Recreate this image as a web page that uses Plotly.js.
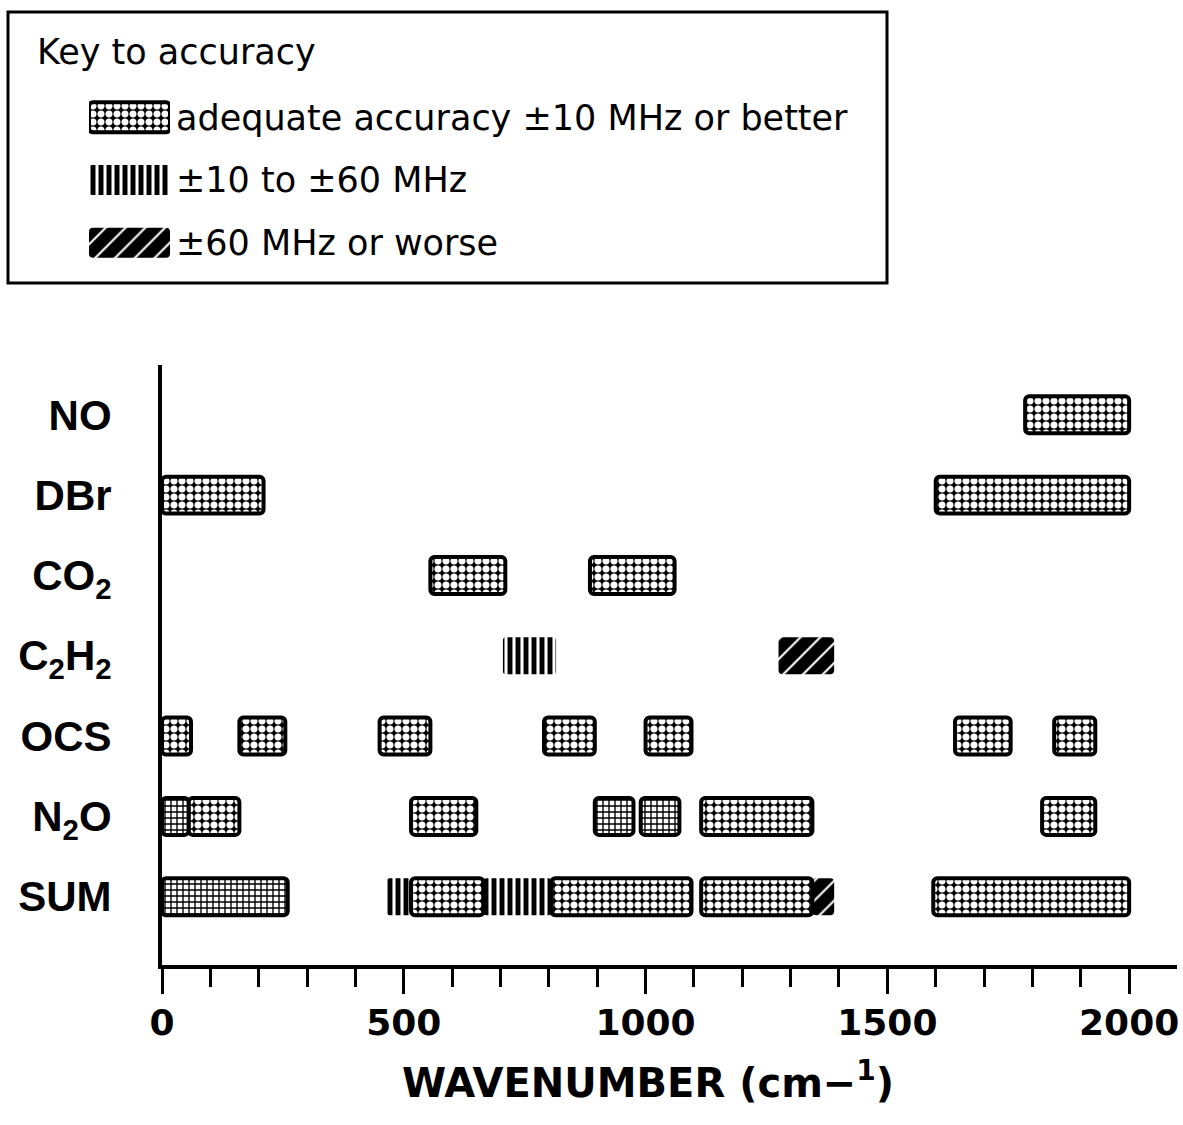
<!DOCTYPE html>
<html><head><meta charset="utf-8">
<script src="https://cdn.plot.ly/plotly-3.0.1.min.js"></script>
<style>html,body{margin:0;padding:0;background:#fff}</style>
</head><body><div id="chart" style="width:1183px;height:1125px"></div>
<script>
// ---- data ----
const categories = ['NO','DBr','CO<sub>2</sub>','C<sub>2</sub>H<sub>2</sub>','OCS','N<sub>2</sub>O','SUM'];
const xTickValues = [0, 500, 1000, 1500, 2000];

// adequate accuracy ±10 MHz or better
const adequateMolecule = ['NO','DBr','DBr','CO<sub>2</sub>','CO<sub>2</sub>',
  'OCS','OCS','OCS','OCS','OCS','OCS','OCS',
  'N<sub>2</sub>O','N<sub>2</sub>O','N<sub>2</sub>O','N<sub>2</sub>O',
  'SUM','SUM','SUM','SUM'];
const adequateStart = [1785, 0, 1600, 555, 885,
  0, 160, 450, 790, 1000, 1640, 1845,
  55, 515, 1115, 1820,
  515, 805, 1115, 1595];
const adequateEnd = [2000, 210, 2000, 710, 1060,
  60, 255, 555, 895, 1095, 1755, 1930,
  160, 650, 1345, 1930,
  665, 1095, 1345, 2000];

// ±10 to ±60 MHz
const mediumMolecule = ['C<sub>2</sub>H<sub>2</sub>','SUM','SUM'];
const mediumStart = [705, 465, 665];
const mediumEnd = [815, 515, 805];

// ±60 MHz or worse
const poorMolecule = ['C<sub>2</sub>H<sub>2</sub>','SUM'];
const poorStart = [1275, 1345];
const poorEnd = [1390, 1390];

// mixed (grid pattern)
const mixedMolecule = ['N<sub>2</sub>O','N<sub>2</sub>O','N<sub>2</sub>O','SUM'];
const mixedStart = [0, 895, 990, 0];
const mixedEnd = [55, 975, 1070, 260];

const keyTitle = 'Key to accuracy';
const keyLabels = ['adequate accuracy ±10 MHz or better', '±10 to ±60 MHz', '±60 MHz or worse'];
const xTitle = 'WAVENUMBER (cm−<sup>1</sup>)';

// ---- styles ----
const W = 1183, H = 1125;
const px = v => v / W, py = v => (H - v) / H;

const styleAdequate = {color:'black', cornerradius:4, line:{color:'black', width:4},
  pattern:{shape:'.', fillmode:'replace', fgcolor:'white', bgcolor:'black', size:8, solidity:0.6}};
const styleMedium = {color:'black', cornerradius:3, line:{width:0},
  pattern:{shape:'|', fillmode:'replace', fgcolor:'black', bgcolor:'white', size:8, solidity:0.62}};
const stylePoor = {color:'black', cornerradius:4, line:{width:0},
  pattern:{shape:'/', fillmode:'replace', fgcolor:'white', bgcolor:'black', size:14, solidity:0.15}};
const styleMixed = {color:'black', cornerradius:4, line:{color:'black', width:4},
  pattern:{shape:'+', fillmode:'replace', fgcolor:'black', bgcolor:'white', size:6, solidity:0.4}};

const diff = (a, b) => b.map((v, i) => v - a[i]);
function barTrace(mol, s, e, marker) {
  return {type:'bar', orientation:'h', y:mol, base:s, x:diff(s, e), width:0.46,
    marker:marker, xaxis:'x', yaxis:'y', hoverinfo:'skip', showlegend:false};
}
function keyTrace(label, marker) {
  return {type:'bar', orientation:'h', y:[label], base:[0], x:[1], width:0.48,
    marker:marker, xaxis:'x2', yaxis:'y2', hoverinfo:'skip', showlegend:false};
}

const data = [
  barTrace(mediumMolecule, mediumStart, mediumEnd, styleMedium),
  barTrace(poorMolecule, poorStart, poorEnd, stylePoor),
  barTrace(adequateMolecule, adequateStart, adequateEnd, styleAdequate),
  barTrace(mixedMolecule, mixedStart, mixedEnd, styleMixed),
  keyTrace(keyLabels[0], styleAdequate),
  keyTrace(keyLabels[1], styleMedium),
  keyTrace(keyLabels[2], stylePoor)
];

const layout = {
  width: W, height: H,
  margin: {l:0, r:0, t:0, b:0},
  paper_bgcolor:'white', plot_bgcolor:'white',
  showlegend:false,
  barmode:'overlay',
  xaxis: {domain:[px(162), px(1177)], anchor:'y', range:[0, 2099],
    tickmode:'array', tickvals:xTickValues, ticktext:xTickValues.map(String),
    ticks:'outside', ticklen:25, tickwidth:3, tickcolor:'black',
    minor:{dtick:100, tick0:0, ticks:'outside', ticklen:18, tickwidth:3, tickcolor:'black', showgrid:false},
    showline:true, linewidth:4, linecolor:'black', showgrid:false, zeroline:false,
    ticklabelstandoff:-2,
    tickfont:{family:'DejaVu Sans', size:36, color:'black', weight:'bold'}},
  yaxis: {domain:[py(965), py(365)], anchor:'x', type:'category', categoryarray:categories,
    categoryorder:'array', range:[6.85, -0.62],
    showline:true, linewidth:4, linecolor:'black', ticks:'', showgrid:false, zeroline:false,
    ticklabelstandoff:38,
    tickfont:{family:'Liberation Sans', size:42, color:'black', weight:'bold'}},
  xaxis2: {domain:[px(89), px(170)], anchor:'y2', range:[0, 1], visible:false, fixedrange:true},
  yaxis2: {domain:[py(274), py(86)], anchor:'x2', type:'category', categoryarray:keyLabels,
    categoryorder:'array', range:[2.5, -0.5], side:'right', ticks:'', showline:false,
    showgrid:false, zeroline:false, ticklabelstandoff:5, fixedrange:true,
    tickfont:{family:'DejaVu Sans', size:35, color:'black'}},
  shapes: [{type:'rect', xref:'paper', yref:'paper', x0:px(8), x1:px(887), y0:py(283), y1:py(12),
    line:{color:'black', width:3}, fillcolor:'rgba(0,0,0,0)'}],
  annotations: [
    {text:keyTitle, xref:'paper', yref:'paper', x:px(35), y:py(52), xanchor:'left', yanchor:'middle',
     showarrow:false, font:{family:'DejaVu Sans', size:35, color:'black'}},
    {text:xTitle, xref:'paper', yref:'paper', x:px(648), y:py(1080), xanchor:'center', yanchor:'middle',
     showarrow:false, font:{family:'DejaVu Sans', size:40, color:'black', weight:'bold'}}
  ]
};

Plotly.newPlot('chart', data, layout, {displayModeBar:false, staticPlot:true});
</script></body></html>
